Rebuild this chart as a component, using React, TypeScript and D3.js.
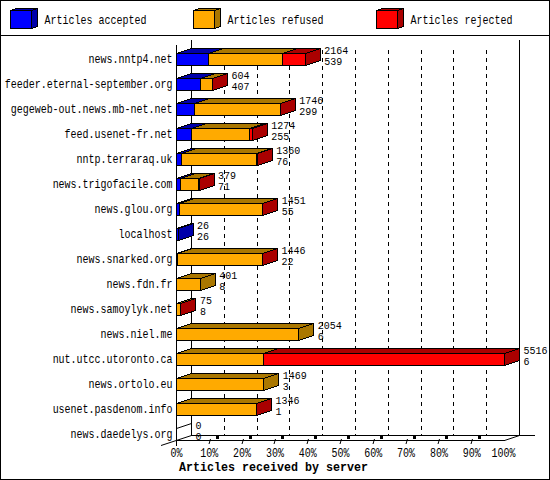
import React from "react";
import * as d3 from "d3";

const categories = ["news.nntp4.net","feeder.eternal-september.org","gegeweb-out.news.mb-net.net","feed.usenet-fr.net","nntp.terraraq.uk","news.trigofacile.com","news.glou.org","localhost","news.snarked.org","news.fdn.fr","news.samoylyk.net","news.niel.me","nut.utcc.utoronto.ca","news.ortolo.eu","usenet.pasdenom.info","news.daedelys.org"];
const accepted = [539,407,299,255,76,71,55,26,22,8,8,6,6,3,1,0];
const refused = [1237,196,1443,969,1274,305,1393,0,1421,393,66,2048,1451,1466,1343,0];
const rejected = [388,1,4,50,10,3,3,0,3,0,1,0,4059,0,2,0];
const totals = [2164,604,1746,1274,1360,379,1451,26,1446,401,75,2054,5516,1469,1346,0];
const seriesNames = ["Articles accepted","Articles refused","Articles rejected"];
const frontColors = ["#0000ff","#ffaa00","#ff0000"];
const darkColors = ["#0000aa","#aa7700","#aa0000"];
const pctTicks = [0,10,20,30,40,50,60,70,80,90,100];
const axisTitle = "Articles received by server";

const MONO = "'Liberation Mono', 'DejaVu Sans Mono', monospace";
const DX = 15, DY = 5;
const snap = (v: number) => Math.round(v - 0.5) + 0.5;

function Label(props: { x: number; y: number; anchor?: string; children: React.ReactNode; sy?: number; bold?: boolean }) {
  const { x, y, anchor, children, sy = 1.2, bold } = props;
  return (
    <text
      transform={`translate(${x},${y}) scale(1,${sy})`}
      textAnchor={anchor ?? "start"}
      fill="#000"
      fontWeight={bold ? "bold" : "normal"}
      fontSize={bold ? 11.67 : 10}
    >
      {children}
    </text>
  );
}

export default function App() {
  const x = d3.scaleLinear().domain([0, 5516]).range([176.5, 504.5]);
  const xp = d3.scaleLinear().domain([0, 100]).range([176.5, 504.5]);
  const y = d3.scalePoint<string>().domain(categories).range([59, 434]);
  const series = [accepted, refused, rejected];
  const legendX = d3.scaleLinear().domain([0, 2]).range([10.5, 376.5]);
  const pts = (a: number[][]) => a.map(p => p.join(",")).join(" ");

  return (
    <svg width={550} height={480} style={{ position: "fixed", left: 0, top: 0, background: "#fff" }} shapeRendering="crispEdges" fontFamily={MONO} fontSize={10}>
      <rect x={0.5} y={0.5} width={549} height={479} fill="#fff" stroke="#000" />
      <line x1={0} x2={550} y1={35.5} y2={35.5} stroke="#000" />

      {seriesNames.map((n, i) => {
        const lx = legendX(i);
        return (
          <g key={n}>
            <polygon points={pts([[lx, 10.5],[lx + 6, 8.5],[lx + 27, 8.5],[lx + 21, 10.5]])} fill={darkColors[i]} stroke="#000" />
            <polygon points={pts([[lx + 21, 10.5],[lx + 27, 8.5],[lx + 27, 26.5],[lx + 21, 28.5]])} fill={darkColors[i]} stroke="#000" />
            <rect x={lx} y={10.5} width={21} height={18} fill={frontColors[i]} stroke="#000" />
            <Label x={lx + 34} y={23.5}>{n}</Label>
          </g>
        );
      })}

      {pctTicks.slice(1, -1).map(t => {
        const gx = snap(xp(t) + DX);
        return <line key={t} x1={gx} x2={gx} y1={50} y2={435} stroke="#000" strokeDasharray="4 4" />;
      })}
      <line x1={191.5} x2={191.5} y1={40} y2={436} stroke="#000" />
      <line x1={519.5} x2={519.5} y1={40} y2={436} stroke="#000" />
      <line x1={176.5} x2={176.5} y1={45} y2={446} stroke="#000" />
      <line x1={191} x2={535} y1={435.5} y2={435.5} stroke="#000" />
      <line x1={176} x2={505} y1={440.5} y2={440.5} stroke="#000" />
      <g shapeRendering="auto">
        <line x1={161} y1={445.5} x2={191.5} y2={435.5} stroke="#000" />
        <line x1={504.5} y1={440.5} x2={519.5} y2={435.5} stroke="#000" />
      </g>
      {pctTicks.slice(1, -1).map(t => {
        const fx = snap(xp(t));
        return (
          <g key={t}>
            <line x1={fx - 0.5} y1={444} x2={fx + 1} y2={439} stroke="#000" shapeRendering="auto" />
            <rect x={fx + 6} y={436} width={3} height={2.5} fill="#000" />
          </g>
        );
      })}

      {categories.map((c, i) => {
        const cy = y(c)!;
        const top = cy - 5.5, bot = cy + 6.5;
        let acc = 0;
        const boxes = series.map((s, k) => {
          const v = s[i];
          const x0 = snap(x(acc));
          acc += v;
          const x1 = snap(x(acc));
          if (v <= 0) return null;
          return (
            <g key={k}>
              <polygon points={pts([[x0, top],[x0 + DX, top - DY],[x1 + DX, top - DY],[x1, top]])} fill={darkColors[k]} stroke="#000" />
              <polygon points={pts([[x1, top],[x1 + DX, top - DY],[x1 + DX, bot - DY],[x1, bot]])} fill={darkColors[k]} stroke="#000" />
              <rect x={x0} y={top} width={x1 - x0} height={bot - top} fill={frontColors[k]} stroke="#000" />
            </g>
          );
        });
        return (
          <g key={c}>
            {totals[i] === 0 && (
              <line x1={176.5} y1={top} x2={191.5} y2={top - DY} stroke="#000" shapeRendering="auto" />
            )}
            {boxes}
          </g>
        );
      })}

      {categories.map((c, i) => {
        const cy = y(c)!;
        const end = x(totals[i]) + DX + 4;
        return (
          <g key={c}>
            <Label x={172.5} y={cy + 3.5} anchor="end">{c}</Label>
            <Label x={end} y={cy - 5.5} sy={1}>{totals[i]}</Label>
            <Label x={end} y={cy + 5.5} sy={1}>{accepted[i]}</Label>
          </g>
        );
      })}
      {pctTicks.map(t => (
        <Label key={t} x={xp(t) - (t === 100 ? 1 : 0)} y={456.5} anchor="middle">{t}%</Label>
      ))}
      <Label x={273.5} y={471} anchor="middle" bold sy={1.15}>{axisTitle}</Label>
    </svg>
  );
}
